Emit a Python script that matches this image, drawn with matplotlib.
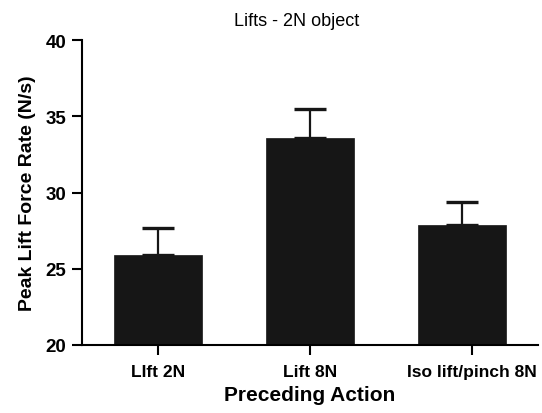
import numpy as np
import matplotlib
matplotlib.use('Agg')
import matplotlib.pyplot as plt

plt.rcParams['font.family'] = ['Liberation Sans', 'DejaVu Sans']

# data
actions = ['LIft 2N', 'Lift 8N', 'Iso lift/pinch 8N']
means = [25.9, 33.6, 27.85]
sem = [1.8, 1.9, 1.55]

x = np.arange(len(actions))

fig = plt.figure(figsize=(5.42, 4.14), dpi=100)
ax = fig.add_axes([0.1507, 0.165, 0.8419, 0.7352])

ax.bar(x, means, width=0.58, color='#161616', edgecolor='#161616', linewidth=0.5,
       zorder=2)
ax.errorbar(x, means, yerr=[np.zeros(len(sem)), sem], fmt='none', ecolor='#161616',
            elinewidth=1.6, capsize=11.5, capthick=2.4, zorder=1)

ax.set_xlim(-0.5, 2.5)
ax.set_ylim(20, 40)
ax.set_yticks([20, 25, 30, 35, 40])
# GraphPad-style: third tick sits a little right of its bar
ax.set_xticks([0, 1, 2.066])
ax.set_xticklabels(actions)

for s in ['top', 'right']:
    ax.spines[s].set_visible(False)
for s in ['left', 'bottom']:
    ax.spines[s].set_linewidth(1.5)
ax.tick_params(axis='both', length=7, width=1.5, direction='out')
ax.tick_params(axis='y', pad=4)
ax.tick_params(axis='x', pad=7)
for lab in ax.get_xticklabels() + ax.get_yticklabels():
    lab.set_fontweight('bold')
for lab in ax.get_yticklabels():
    lab.set_fontsize(13.5)
for lab in ax.get_xticklabels():
    lab.set_fontsize(12.5)

ax.set_ylabel('Peak Lift Force Rate (N/s)', fontsize=14, fontweight='bold', labelpad=7)
ax.set_xlabel('Preceding Action', fontsize=15, fontweight='bold', labelpad=4)
fig.text(0.548, 0.948, 'Lifts - 2N object', ha='center', va='center', fontsize=13)

fig.savefig('out.png', dpi=100)
